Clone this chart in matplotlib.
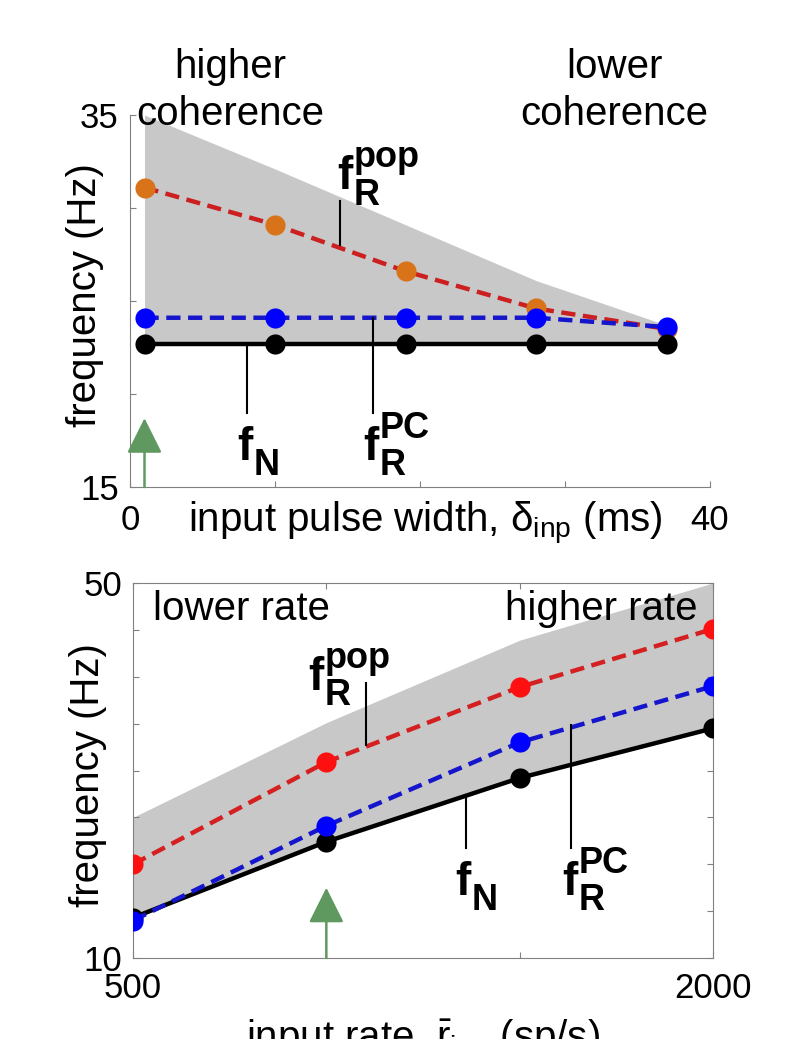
import matplotlib
matplotlib.use('Agg')
import matplotlib.pyplot as plt

plt.rcParams['font.family'] = ['Liberation Sans', 'DejaVu Sans']
plt.rcParams['mathtext.fontset'] = 'custom'
plt.rcParams['mathtext.rm'] = 'Liberation Sans'
plt.rcParams['mathtext.it'] = 'Liberation Sans:italic'
plt.rcParams['mathtext.bf'] = 'Liberation Sans:bold'

# top panel: frequency vs input pulse width
width_ms = [1, 10, 19, 28, 37]
fN_width = [22.7, 22.7, 22.7, 22.7, 22.7]
fRpc_width = [24.1, 24.1, 24.1, 24.1, 23.6]
fRpop_width = [31.1, 29.1, 26.6, 24.6, 23.5]
band_top_width = [35.0, 32.1, 29.1, 26.1, 23.7]

# bottom panel: frequency vs input rate
rate = [500, 1000, 1500, 2000]
fN_rate = [14.3, 22.4, 29.2, 34.5]
fRpc_rate = [14.0, 24.1, 33.0, 39.0]
fRpop_rate = [20.0, 30.9, 38.9, 45.1]
band_top_rate = [25.0, 35.1, 43.9, 50.0]

gray = '#c8c8c8'
axcol = '#808080'
green = '#5f9960'
dash = (0, (3.2, 1.7))
tsize = 25
lsize = 29


def flabel(ax, x, y, sub, sup=None):
    ax.text(x, y, 'f', fontsize=33, fontweight='bold', ha='left', va='baseline')
    ax.annotate(sub, xy=(x, y), xytext=(12, -11), textcoords='offset points',
                fontsize=26, fontweight='bold', ha='left', va='baseline')
    if sup:
        ax.annotate(sup, xy=(x, y), xytext=(12, 16), textcoords='offset points',
                    fontsize=26, fontweight='bold', ha='left', va='baseline')


def leader(ax, x, y0, y1):
    ax.plot([x, x], [y0, y1], color='k', lw=1.5, zorder=6)


def arrow(ax, x, y0, y1):
    ax.annotate('', xy=(x, y1), xytext=(x, y0),
                arrowprops=dict(arrowstyle='-|>,head_length=1.1,head_width=0.55',
                                color=green, lw=1.8, shrinkA=0, shrinkB=0,
                                mutation_scale=20), zorder=7)


fig = plt.figure(figsize=(7.97, 10.39), dpi=100)

# ---------------- top panel ----------------
ax1 = fig.add_axes([130/797, 1 - 487/1039, 580/797, 372/1039])
ax1.fill_between(width_ms, fN_width, band_top_width, color=gray, lw=0, zorder=1)
ax1.plot(width_ms, fRpop_width, linestyle=dash, color='#cc2020', lw=3.2, zorder=3)
ax1.plot(width_ms, fRpop_width, 'o', color='#d9731a', ms=14.5, mec='none', zorder=3)
ax1.plot(width_ms, fRpc_width, linestyle=dash, color='#1515cc', lw=3.2, zorder=4)
ax1.plot(width_ms, fRpc_width, 'o', color='#0000ff', ms=14.5, mec='none', zorder=4)
ax1.plot(width_ms, fN_width, '-', color='k', lw=3.2, zorder=5)
ax1.plot(width_ms, fN_width, 'o', color='k', ms=14.5, mec='none', zorder=5)

ax1.set_xlim(0, 40)
ax1.set_ylim(15, 35)
ax1.set_xticks([0, 10, 20, 30, 40])
ax1.set_xticklabels(['0', '', '', '', '40'])
ax1.set_yticks([15, 20, 25, 30, 35])
ax1.set_yticklabels(['15', '', '', '', '35'])
for s in ['top', 'right']:
    ax1.spines[s].set_visible(False)
for s in ['left', 'bottom']:
    ax1.spines[s].set_color(axcol)
ax1.tick_params(direction='in', length=4, color=axcol, labelsize=tsize, pad=8)
ax1.tick_params(axis='x', pad=12)
ax1.set_ylabel('frequency (Hz)', fontsize=lsize)
ax1.yaxis.set_label_coords(-0.045, 0.516)
ax1.set_xlabel(r'input pulse width, $\mathrm{\delta}_\mathrm{inp}$ (ms)', fontsize=lsize)
ax1.xaxis.set_label_coords(0.509, -0.035)

ax1.text(6.9, 34.04, 'higher\ncoherence', fontsize=lsize, ha='center', va='bottom',
         linespacing=1.3, clip_on=False)
ax1.text(33.4, 34.04, 'lower\ncoherence', fontsize=lsize, ha='center', va='bottom',
         linespacing=1.3, clip_on=False)

flabel(ax1, 14.3, 31.0, 'R', 'pop')
leader(ax1, 14.5, 30.4, 28.0)
flabel(ax1, 7.4, 16.45, 'N')
leader(ax1, 8.07, 22.6, 19.0)
flabel(ax1, 16.1, 16.45, 'R', 'PC')
leader(ax1, 16.76, 24.1, 19.0)
arrow(ax1, 1, 15, 18.7)

# ---------------- bottom panel ----------------
ax2 = fig.add_axes([133/797, 1 - 958/1039, 580/797, 375/1039])
ax2.fill_between(rate, fN_rate, band_top_rate, color=gray, lw=0, zorder=1)
ax2.plot(rate, fN_rate, '-', color='k', lw=3.2, zorder=3)
ax2.plot(rate, fN_rate, 'o', color='k', ms=14.5, mec='none', zorder=3)
ax2.plot(rate, fRpop_rate, linestyle=dash, color='#d42020', lw=3.2, zorder=4)
ax2.plot(rate, fRpop_rate, 'o', color='#ff1010', ms=14.5, mec='none', zorder=4)
ax2.plot(rate, fRpc_rate, linestyle=dash, color='#1515cc', lw=3.2, zorder=5)
ax2.plot(rate, fRpc_rate, 'o', color='#0000ff', ms=14.5, mec='none', zorder=5)

ax2.set_xlim(500, 2000)
ax2.set_ylim(10, 50)
ax2.set_xticks([500, 1000, 1500, 2000])
ax2.set_xticklabels(['500', '', '', '2000'])
ax2.set_yticks([10, 15, 20, 25, 30, 35, 40, 45, 50])
ax2.set_yticklabels(['10', '', '', '', '', '', '', '', '50'])
for s in ax2.spines.values():
    s.set_color(axcol)
ax2.tick_params(direction='in', length=4, color=axcol, labelsize=tsize, pad=8,
                top=True, right=True)
ax2.tick_params(axis='x', pad=10)
ax2.set_ylabel('frequency (Hz)', fontsize=lsize)
ax2.yaxis.set_label_coords(-0.045, 0.488)
ax2.set_xlabel(r'input rate, $\bar{\mathrm{r}}_\mathrm{inp}$ (sp/s)', fontsize=lsize)
ax2.xaxis.set_label_coords(0.5, -0.16)

ax2.text(552, 46.05, 'lower rate', fontsize=lsize, ha='left', va='baseline')
ax2.text(1959, 46.05, 'higher rate', fontsize=lsize, ha='right', va='baseline', zorder=8)

flabel(ax2, 953, 38.6, 'R', 'pop')
leader(ax2, 1102, 39.3, 32.7)
flabel(ax2, 1333, 16.7, 'N')
leader(ax2, 1361, 27.1, 21.7)
flabel(ax2, 1609, 16.7, 'R', 'PC')
leader(ax2, 1633, 34.85, 21.7)
arrow(ax2, 1000, 10, 17.5)

fig.savefig('out.png', dpi=100)
